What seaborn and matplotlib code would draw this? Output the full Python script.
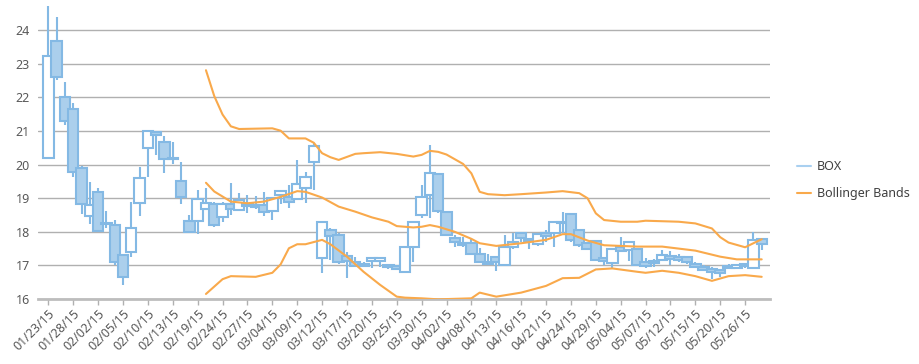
import numpy as np
import pandas as pd
import seaborn as sns
from matplotlib import pyplot as plt
from matplotlib.lines import Line2D

# trading days (NYSE holidays removed)
holidays = ["2015-02-16", "2015-04-03", "2015-05-25"]
dates = pd.bdate_range("2015-01-23", "2015-05-28").drop(pd.to_datetime(holidays))
date_labels = dates.strftime("%m/%d/%y").tolist()

# OHLC
open_ = [20.20, 23.68, 22.00, 21.65, 19.91, 18.47, 19.18, 18.25, 18.20, 17.31,
         17.39, 18.87, 20.50, 20.98, 20.68, 20.20, 19.51, 18.33, 18.33, 18.67,
         18.83, 18.45, 18.83, 18.65, 18.82, 18.80, 18.80, 18.63, 19.10, 19.04,
         18.98, 19.29, 20.07, 17.21, 18.05, 17.90, 17.28, 17.11, 17.05, 17.13,
         17.13, 17.00, 16.98, 16.81, 17.56, 18.50, 19.10, 19.71, 18.58, 17.81,
         17.67, 17.66, 17.34, 17.11, 17.26, 17.01, 17.55, 17.96, 17.80, 17.63,
         17.96, 17.96, 18.25, 18.52, 18.05, 17.66, 17.73, 17.21, 17.08, 17.55,
         17.45, 17.48, 17.10, 17.06, 17.16, 17.28, 17.24, 17.24, 17.03, 16.96,
         16.90, 16.86, 16.91, 16.92, 16.98, 16.91, 17.79]
high = [24.72, 24.38, 22.47, 21.82, 19.96, 19.47, 19.29, 18.63, 18.35, 17.35,
        18.90, 19.94, 21.00, 21.00, 20.85, 20.68, 20.09, 18.50, 19.24, 19.29,
        18.90, 18.90, 19.46, 19.16, 19.10, 19.08, 19.19, 19.01, 19.21, 19.39,
        20.14, 19.79, 20.63, 18.30, 18.10, 17.95, 17.41, 17.25, 17.10, 17.23,
        17.23, 17.05, 17.00, 17.56, 18.30, 19.39, 20.58, 19.71, 18.60, 17.90,
        17.84, 17.83, 17.51, 17.35, 17.26, 17.90, 17.96, 17.98, 17.82, 17.93,
        18.05, 18.30, 18.60, 18.52, 18.07, 17.70, 17.76, 17.25, 17.50, 17.86,
        17.69, 17.50, 17.21, 17.20, 17.46, 17.43, 17.34, 17.26, 17.10, 17.00,
        16.95, 16.90, 17.03, 17.05, 17.07, 17.98, 17.80]
low = [20.16, 22.52, 21.18, 19.62, 18.52, 18.23, 18.03, 18.10, 17.01, 16.42,
       17.24, 18.47, 19.64, 20.30, 19.76, 20.02, 18.82, 18.00, 17.92, 18.65,
       18.15, 18.30, 18.50, 18.64, 18.55, 18.68, 18.47, 18.35, 18.83, 18.70,
       18.98, 18.87, 19.24, 16.76, 17.16, 17.05, 16.62, 16.95, 16.95, 16.91,
       16.95, 16.90, 16.85, 16.81, 17.11, 18.40, 18.40, 18.55, 17.90, 17.54,
       17.54, 17.34, 17.11, 17.03, 16.83, 17.01, 17.50, 17.70, 17.50, 17.57,
       17.70, 17.56, 17.95, 17.70, 17.55, 17.45, 17.12, 17.02, 16.89, 17.40,
       17.14, 17.00, 16.93, 16.96, 17.16, 17.00, 17.10, 17.03, 16.93, 16.84,
       16.60, 16.66, 16.88, 16.90, 16.92, 16.91, 17.46]
close = [23.23, 22.60, 21.31, 19.79, 18.82, 18.80, 18.03, 18.22, 17.09, 16.66,
         18.12, 19.61, 21.00, 20.88, 20.16, 20.18, 19.04, 18.00, 18.98, 18.85,
         18.20, 18.83, 18.67, 18.95, 18.76, 18.73, 18.60, 19.01, 19.21, 18.90,
         19.41, 19.64, 20.54, 18.30, 17.88, 17.11, 17.14, 16.99, 16.99, 17.23,
         17.23, 16.95, 16.90, 17.56, 18.30, 19.04, 19.76, 18.63, 17.90, 17.69,
         17.62, 17.34, 17.11, 17.03, 17.09, 17.56, 17.70, 17.82, 17.74, 17.93,
         17.89, 18.30, 18.30, 17.76, 17.60, 17.49, 17.16, 17.12, 17.50, 17.42,
         17.69, 17.02, 16.98, 17.12, 17.31, 17.20, 17.17, 17.09, 16.94, 16.86,
         16.80, 16.78, 16.99, 17.01, 17.05, 17.76, 17.64]

# Bollinger bands, read at the positions where they could be read
upper_idx = [19, 20, 21, 22, 23, 25, 27, 28, 29, 31, 32, 33, 34, 35, 37, 38, 40, 42, 44, 45,
             46, 47, 48, 50, 51, 52, 53, 55, 57, 60, 62, 64, 65, 66, 67, 69, 71, 72, 76, 78,
             80, 81, 82, 84, 85, 86]
upper = [22.81, 22.04, 21.49, 21.14, 21.06, 21.07, 21.08, 21.01, 20.78, 20.78, 20.65, 20.34,
         20.22, 20.14, 20.32, 20.34, 20.37, 20.32, 20.24, 20.29, 20.41, 20.38, 20.30, 20.02,
         19.74, 19.19, 19.12, 19.09, 19.12, 19.17, 19.21, 19.15, 19.00, 18.55, 18.35, 18.30,
         18.30, 18.33, 18.30, 18.25, 18.10, 17.84, 17.68, 17.54, 17.66, 17.78]
middle_idx = [19, 20, 22, 24, 26, 28, 30, 31, 33, 35, 37, 39, 41, 42, 44, 45, 46, 47, 49, 51,
              52, 54, 57, 60, 62, 63, 65, 67, 71, 74, 78, 81, 83, 86]
middle = [19.46, 19.20, 18.90, 18.85, 18.90, 19.04, 19.21, 19.19, 19.02, 18.75, 18.60, 18.43,
          18.30, 18.17, 18.13, 18.15, 18.20, 18.15, 18.00, 17.79, 17.66, 17.58, 17.66, 17.76,
          17.93, 17.93, 17.74, 17.60, 17.56, 17.56, 17.44, 17.26, 17.18, 17.18]
lower_idx = [19, 21, 22, 25, 27, 28, 29, 30, 31, 33, 34, 36, 38, 40, 42, 43, 45, 47, 51, 52,
             54, 57, 60, 62, 64, 66, 68, 71, 72, 74, 76, 78, 80, 82, 84, 86]
lower = [16.15, 16.59, 16.68, 16.66, 16.78, 17.03, 17.51, 17.63, 17.63, 17.76, 17.63, 17.26,
         16.81, 16.42, 16.07, 16.04, 16.02, 15.99, 16.02, 16.19, 16.07, 16.19, 16.39, 16.62,
         16.63, 16.88, 16.91, 16.81, 16.78, 16.84, 16.78, 16.68, 16.54, 16.68, 16.71, 16.66]

BLUE = "#84b9e4"
FILL = "#abcfec"
ORANGE = "#f9a94b"
TEXT = "#595959"

sns.set_theme(style="white")
plt.rcParams["font.family"] = ["Noto Sans", "DejaVu Sans"]

df = pd.DataFrame({"open": open_, "high": high, "low": low, "close": close})
df["pos"] = np.arange(len(df))
df["up"] = df["close"] >= df["open"]

fig = plt.figure(figsize=(9.2, 3.64), dpi=100)
ax = fig.add_axes([38 / 920, 65 / 364, (770 - 38) / 920, 299 / 364])

# wicks then bodies
ax.vlines(df["pos"], df["low"], df["high"], color=BLUE, lw=1.5, zorder=1)
body_h = (df["close"] - df["open"]).abs().clip(lower=0.02)
body_b = df[["open", "close"]].min(axis=1)
ax.bar(df["pos"], body_h, bottom=body_b, width=1.25,
       color=np.where(df["up"], "white", FILL), edgecolor=BLUE, linewidth=1.5, zorder=2)

bands = pd.concat([
    pd.DataFrame({"pos": upper_idx, "value": upper, "band": "upper"}),
    pd.DataFrame({"pos": middle_idx, "value": middle, "band": "middle"}),
    pd.DataFrame({"pos": lower_idx, "value": lower, "band": "lower"}),
])
sns.lineplot(data=bands, x="pos", y="value", hue="band", units="band", estimator=None,
             palette={"upper": ORANGE, "middle": ORANGE, "lower": ORANGE},
             lw=1.5, legend=False, ax=ax, zorder=3)

ax.set_xlim(-1.25, 87)
ax.set_ylim(16, 24.9)
ax.set_yticks(range(16, 25))
ax.yaxis.grid(True, color="#b0b0b0", lw=1)
ax.set_axisbelow(True)
ax.set_xticks(df["pos"][::3])
ax.set_xticklabels(date_labels[::3], rotation=45, ha="right", rotation_mode="anchor")
ax.tick_params(axis="x", length=4, width=1, color="#b0b0b0", pad=2, labelsize=9, labelcolor=TEXT, bottom=True)
ax.tick_params(axis="y", length=0, pad=6, labelsize=9, labelcolor=TEXT)
ax.set_xlabel("")
ax.set_ylabel("")
for side in ["left", "top", "right"]:
    ax.spines[side].set_visible(False)
ax.spines["bottom"].set_color("#bdbdbd")
ax.spines["bottom"].set_linewidth(2)

handles = [Line2D([], [], color="#a9d0f0", lw=1.5), Line2D([], [], color=ORANGE, lw=1.5)]
fig.legend(handles, ["BOX", "Bollinger Bands"], loc="center left", bbox_to_anchor=(786 / 920, 1 - 180 / 364),
           frameon=False, handlelength=1.1, handletextpad=0.5, labelspacing=1.1,
           prop={"size": 9}, labelcolor="#404040")

fig.savefig("out.png", dpi=100)
